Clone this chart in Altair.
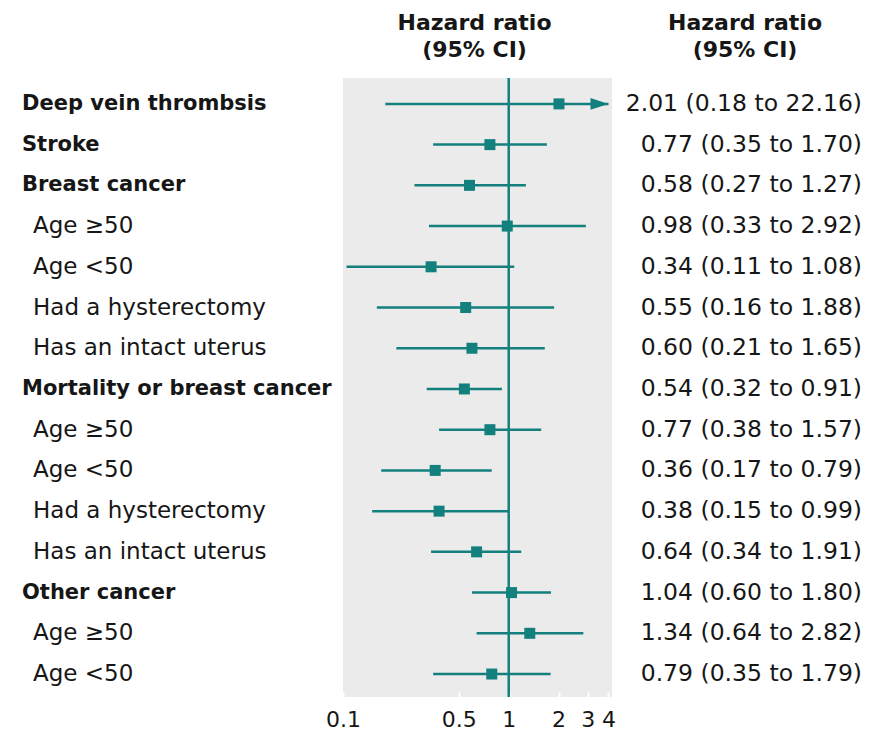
import altair as alt
import pandas as pd

# ---- data ----
names = [
    "Deep vein thrombsis", "Stroke", "Breast cancer", "Age ≥50", "Age <50",
    "Had a hysterectomy", "Has an intact uterus", "Mortality or breast cancer",
    "Age ≥50", "Age <50", "Had a hysterectomy", "Has an intact uterus",
    "Other cancer", "Age ≥50", "Age <50",
]
is_heading = [True, True, True, False, False, False, False, True,
              False, False, False, False, True, False, False]
hr = [2.01, 0.77, 0.58, 0.98, 0.34, 0.55, 0.60, 0.54, 0.77, 0.36, 0.38, 0.64, 1.04, 1.34, 0.79]
# interval ends as drawn in the picture
lo = [0.18, 0.35, 0.27, 0.33, 0.105, 0.16, 0.21, 0.32, 0.38, 0.17, 0.15, 0.34, 0.60, 0.64, 0.35]
hi = [22.16, 1.70, 1.27, 2.92, 1.08, 1.88, 1.65, 0.91, 1.57, 0.79, 0.99, 1.19, 1.80, 2.82, 1.79]
ci_text = [
    "2.01 (0.18 to 22.16)", "0.77 (0.35 to 1.70)", "0.58 (0.27 to 1.27)",
    "0.98 (0.33 to 2.92)", "0.34 (0.11 to 1.08)", "0.55 (0.16 to 1.88)",
    "0.60 (0.21 to 1.65)", "0.54 (0.32 to 0.91)", "0.77 (0.38 to 1.57)",
    "0.36 (0.17 to 0.79)", "0.38 (0.15 to 0.99)", "0.64 (0.34 to 1.91)",
    "1.04 (0.60 to 1.80)", "1.34 (0.64 to 2.82)", "0.79 (0.35 to 1.79)",
]
header_lines = ["Hazard ratio", "(95% CI)"]
axis_values = [0.1, 0.5, 1, 2, 3, 4]
x_domain = [0.1, 4.2]
arrow_cap = 4
null_value = [1]

df = pd.DataFrame({
    "row": list(range(len(names))), "name": names, "heading": is_heading,
    "hr": hr, "lo": lo, "hi": hi, "ci": ci_text,
})

TEAL = "#13807e"
TXT = "#161616"
FONT = "DejaVu Sans"
W, H = 269, 619

x_scale = alt.Scale(type="log", domain=x_domain, nice=False)
x_axis = alt.Axis(
    values=axis_values, format="~g", title=None, domain=False, grid=False,
    ticks=True, tickColor="white", tickSize=5, tickWidth=2, offset=-5,
    labelFont=FONT, labelFontSize=22, labelColor=TXT, labelPadding=12,
    labelFlush=False, labelOverlap=False,
)
y_enc = alt.Y("row:O", scale=alt.Scale(type="point", padding=0.6, align=0.53), axis=None)

base = alt.Chart(df).transform_calculate(hic=f"min(datum.hi, {arrow_cap})")

ref_line = alt.Chart(pd.DataFrame({"v": null_value})).mark_rule(
    color=TEAL, strokeWidth=2.5
).encode(x=alt.X("v:Q", scale=x_scale, axis=x_axis))

ci_lines = base.mark_rule(color=TEAL, strokeWidth=2.5).encode(
    x=alt.X("lo:Q", scale=x_scale, axis=x_axis), x2="hic:Q", y=y_enc
)

squares = base.mark_square(size=121, color=TEAL, opacity=1).encode(
    x=alt.X("hr:Q", scale=x_scale, axis=x_axis), y=y_enc
)

arrows = base.transform_filter(f"datum.hi > {arrow_cap}").mark_point(
    shape="M0,0L-1,-0.33L-1,0.33Z", filled=True, size=1296, color=TEAL, opacity=1
).encode(x=alt.X("hic:Q", scale=x_scale, axis=x_axis), y=y_enc)

left_bold = base.transform_filter("datum.heading").mark_text(
    align="left", baseline="middle", font=FONT, fontWeight="bold",
    fontSize=21, color=TXT
).encode(x=alt.value(-321), y=y_enc, text="name:N")

left_norm = base.transform_filter("!datum.heading").mark_text(
    align="left", baseline="middle", font=FONT, fontSize=23, color=TXT
).encode(x=alt.value(-310), y=y_enc, text="name:N")

right_text = base.mark_text(
    align="right", baseline="middle", font=FONT, fontSize=23.5, color=TXT
).encode(x=alt.value(519), y=y_enc, text="ci:N")

hdr_df = pd.DataFrame({"t": ["\n".join(header_lines)]})
hdr_left = alt.Chart(hdr_df).mark_text(
    align="center", baseline="alphabetic", font=FONT, fontWeight="bold",
    fontSize=22, lineBreak="\n", lineHeight=27, color=TXT
).encode(x=alt.value(W / 2 - 3), y=alt.value(-48), text="t:N")
hdr_right = alt.Chart(hdr_df).mark_text(
    align="center", baseline="alphabetic", font=FONT, fontWeight="bold",
    fontSize=22, lineBreak="\n", lineHeight=27, color=TXT
).encode(x=alt.value(402), y=alt.value(-48), text="t:N")

chart = alt.layer(
    ref_line, ci_lines, squares, arrows, left_bold, left_norm, right_text,
    hdr_left, hdr_right
).properties(
    width=W, height=H,
    autosize=alt.AutoSizeParams(type="none"),
    padding={"left": 335, "top": 70, "right": 271, "bottom": 34},
    background="white",
).configure_view(fill="#ebebeb", strokeWidth=0)

chart.save("out.html", embed_options={"renderer": "svg", "actions": False})
